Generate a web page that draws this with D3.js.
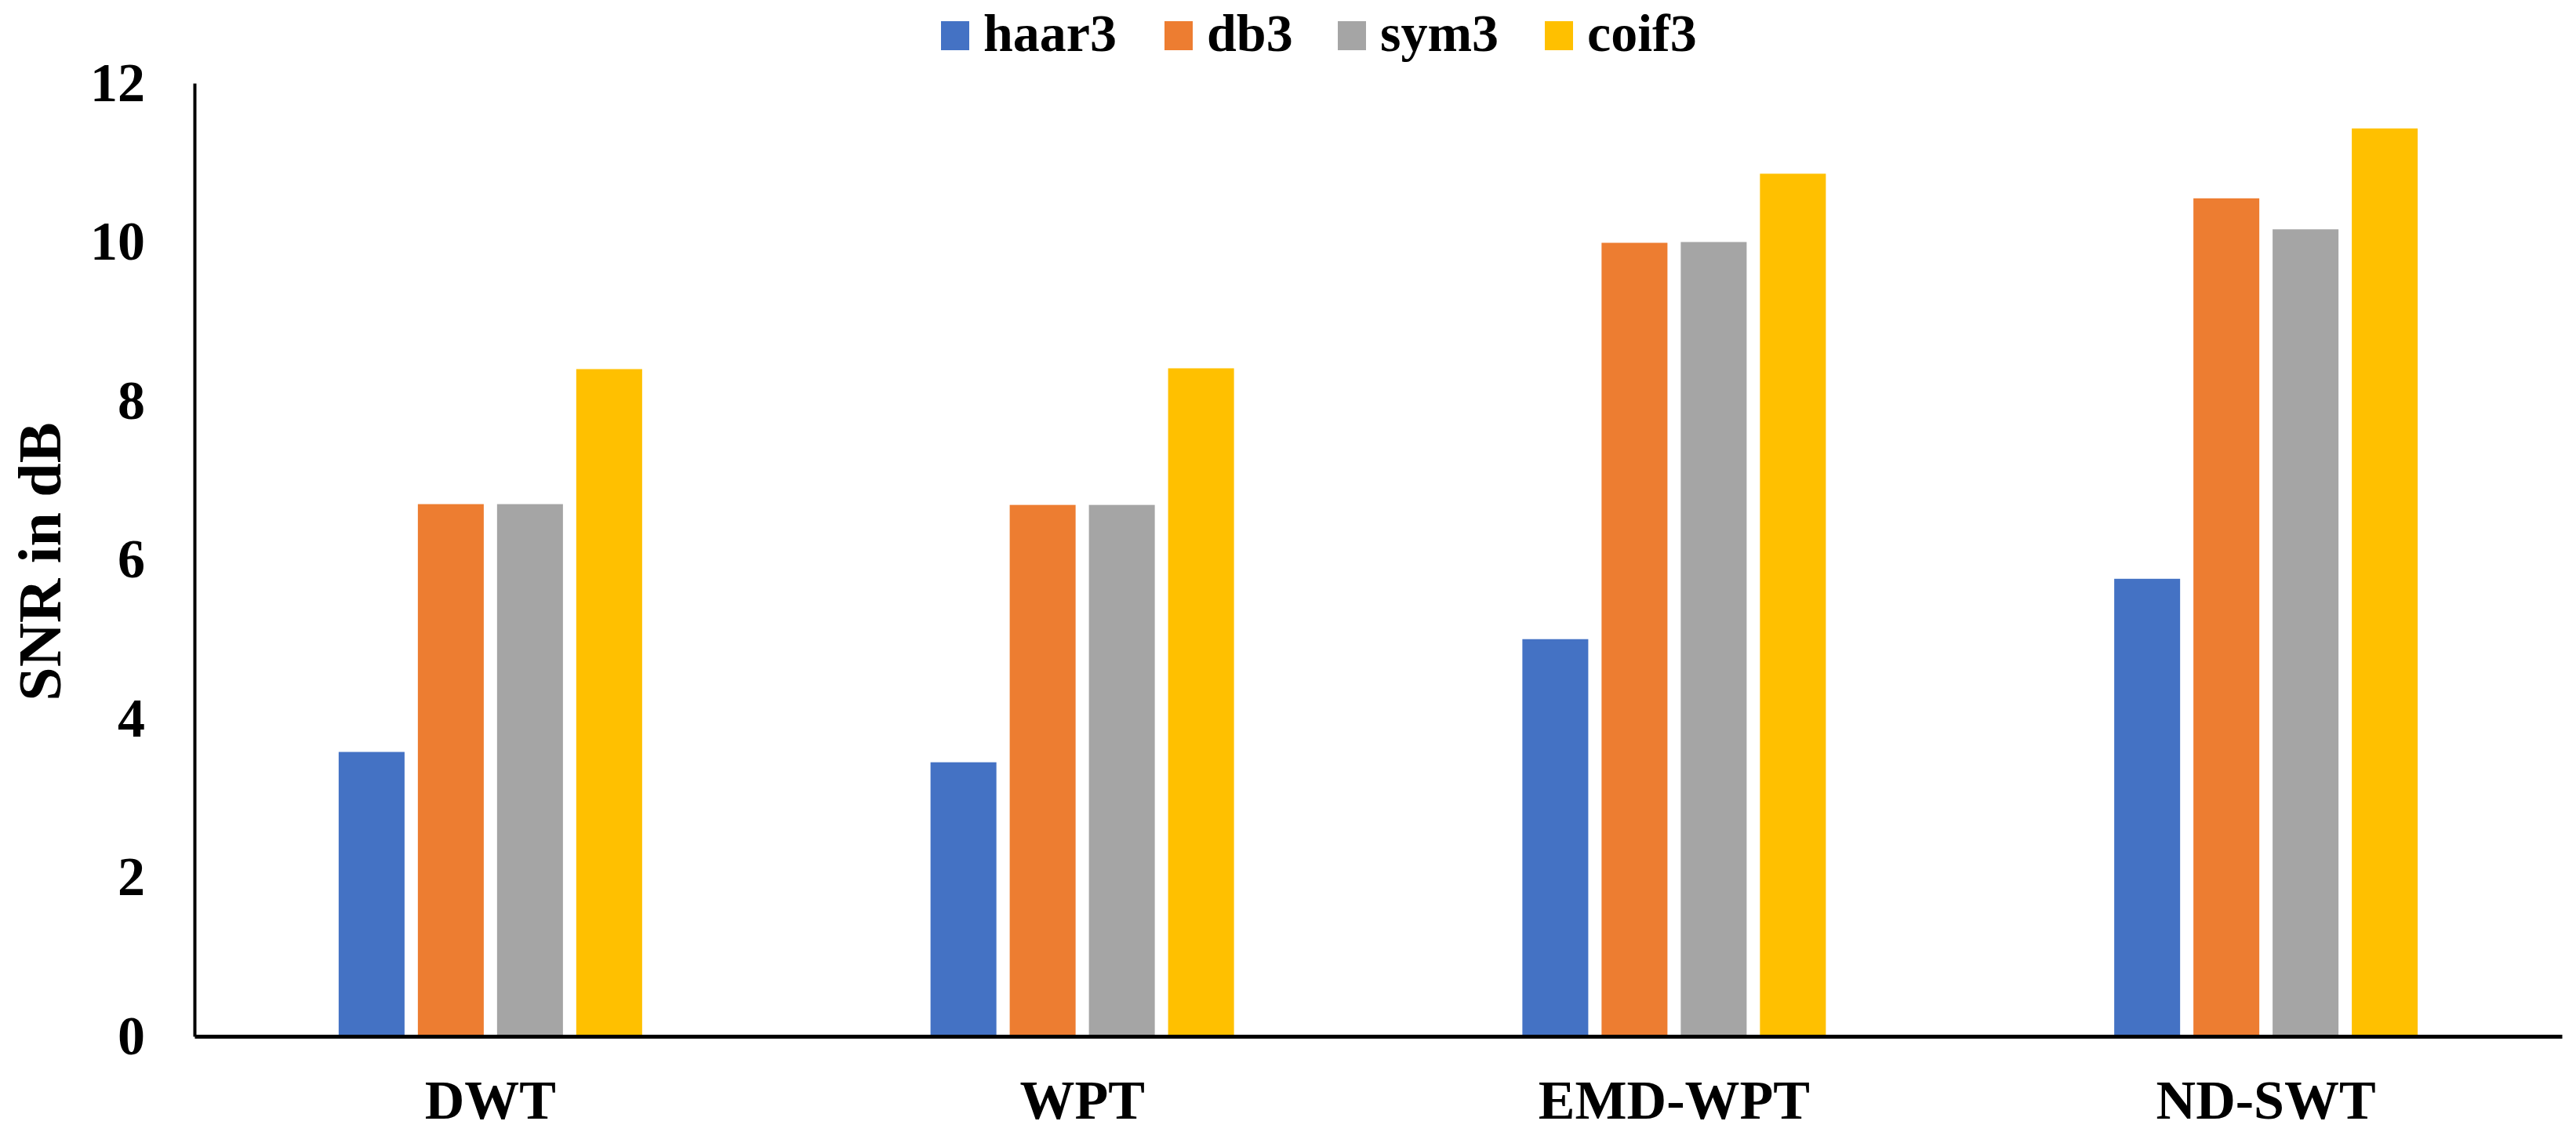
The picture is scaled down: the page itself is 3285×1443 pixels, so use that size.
<!DOCTYPE html>
<html lang="en">
<head>
    <meta charset="UTF-8">
    <title>SNR bar chart</title>
    <script src="https://cdn.jsdelivr.net/npm/d3@7"></script>
    <style>
        html, body { margin: 0; padding: 0; background: #ffffff; }
        svg { display: block; }
        text { font-family: "Liberation Serif", "Times New Roman", serif; font-weight: bold; fill: #000; }
    </style>
</head>
<body>
<svg id="chart" width="3285" height="1443"></svg>

<script>
    // data
    let methods = ["DWT", "WPT", "EMD-WPT", "ND-SWT"]
    let wavelets = ["haar3", "db3", "sym3", "coif3"]
    let colors = ["#4472C4", "#ED7D31", "#A5A5A5", "#FFC000"]
    let haar3 = [3.58, 3.45, 5.00, 5.76]
    let db3 = [6.70, 6.69, 9.99, 10.55]
    let sym3 = [6.70, 6.69, 10.00, 10.16]
    let coif3 = [8.40, 8.41, 10.86, 11.43]
    let yTicks = [0, 2, 4, 6, 8, 10, 12]

    let series = [haar3, db3, sym3, coif3]

    let svg = d3.select("#chart")
    let plotLeft = 248, plotRight = 3267, plotTop = 106, plotBottom = 1321

    let x0 = d3.scaleBand()
        .domain(methods)
        .range([plotLeft, plotRight])
        .padding(0)

    let x1 = d3.scaleBand()
        .domain(wavelets)
        .range([0, 387])
        .paddingInner(0.168)
        .paddingOuter(0)

    let y = d3.scaleLinear()
        .domain([0, 12])
        .range([plotBottom, plotTop])

    let color = d3.scaleOrdinal().domain(wavelets).range(colors)

    // bars
    let groups = svg.append("g")
        .selectAll("g")
        .data(methods)
        .join("g")
        .attr("transform", d => "translate(" + (x0(d) + (x0.bandwidth() - 387) / 2) + ",0)")

    groups.selectAll("rect")
        .data((m, i) => wavelets.map((w, j) => ({w: w, v: series[j][i]})))
        .join("rect")
        .attr("x", d => x1(d.w))
        .attr("y", d => y(d.v))
        .attr("width", x1.bandwidth())
        .attr("height", d => plotBottom - y(d.v))
        .attr("fill", d => color(d.w))

    // y axis
    let yAxis = svg.append("g")
        .attr("transform", "translate(" + plotLeft + ",0)")
        .call(d3.axisLeft(y).tickValues(yTicks).tickSize(0).tickSizeOuter(0).tickPadding(63))
    yAxis.select(".domain").attr("stroke", "#000").attr("stroke-width", 4)
    yAxis.selectAll("text")
        .style("font-size", "70px")
        .style("font-family", "'Liberation Serif', serif")
        .style("font-weight", "bold")

    // x axis
    let xAxis = svg.append("g")
        .attr("transform", "translate(0," + plotBottom + ")")
        .call(d3.axisBottom(x0).tickSize(0).tickSizeOuter(0))
    xAxis.select(".domain").attr("stroke", "#000").attr("stroke-width", 5)
    xAxis.selectAll("text")
        .attr("y", 105)
        .attr("dy", 0)
        .style("font-size", "70px")
        .style("font-family", "'Liberation Serif', serif")
        .style("font-weight", "bold")

    // y axis title
    svg.append("text")
        .attr("transform", "translate(77,716) rotate(-90)")
        .attr("text-anchor", "middle")
        .style("font-size", "78px")
        .text("SNR in dB")

    // legend
    let legendX = [1200, 1485, 1706, 1970]
    let legend = svg.append("g")
        .selectAll("g")
        .data(wavelets)
        .join("g")
        .attr("transform", (d, i) => "translate(" + legendX[i] + ",0)")
    legend.append("rect")
        .attr("x", 0)
        .attr("y", 27)
        .attr("width", 36)
        .attr("height", 37)
        .attr("fill", d => color(d))
    legend.append("text")
        .attr("x", 54)
        .attr("y", 65)
        .style("font-size", "68px")
        .text(d => d)
</script>
</body>
</html>
